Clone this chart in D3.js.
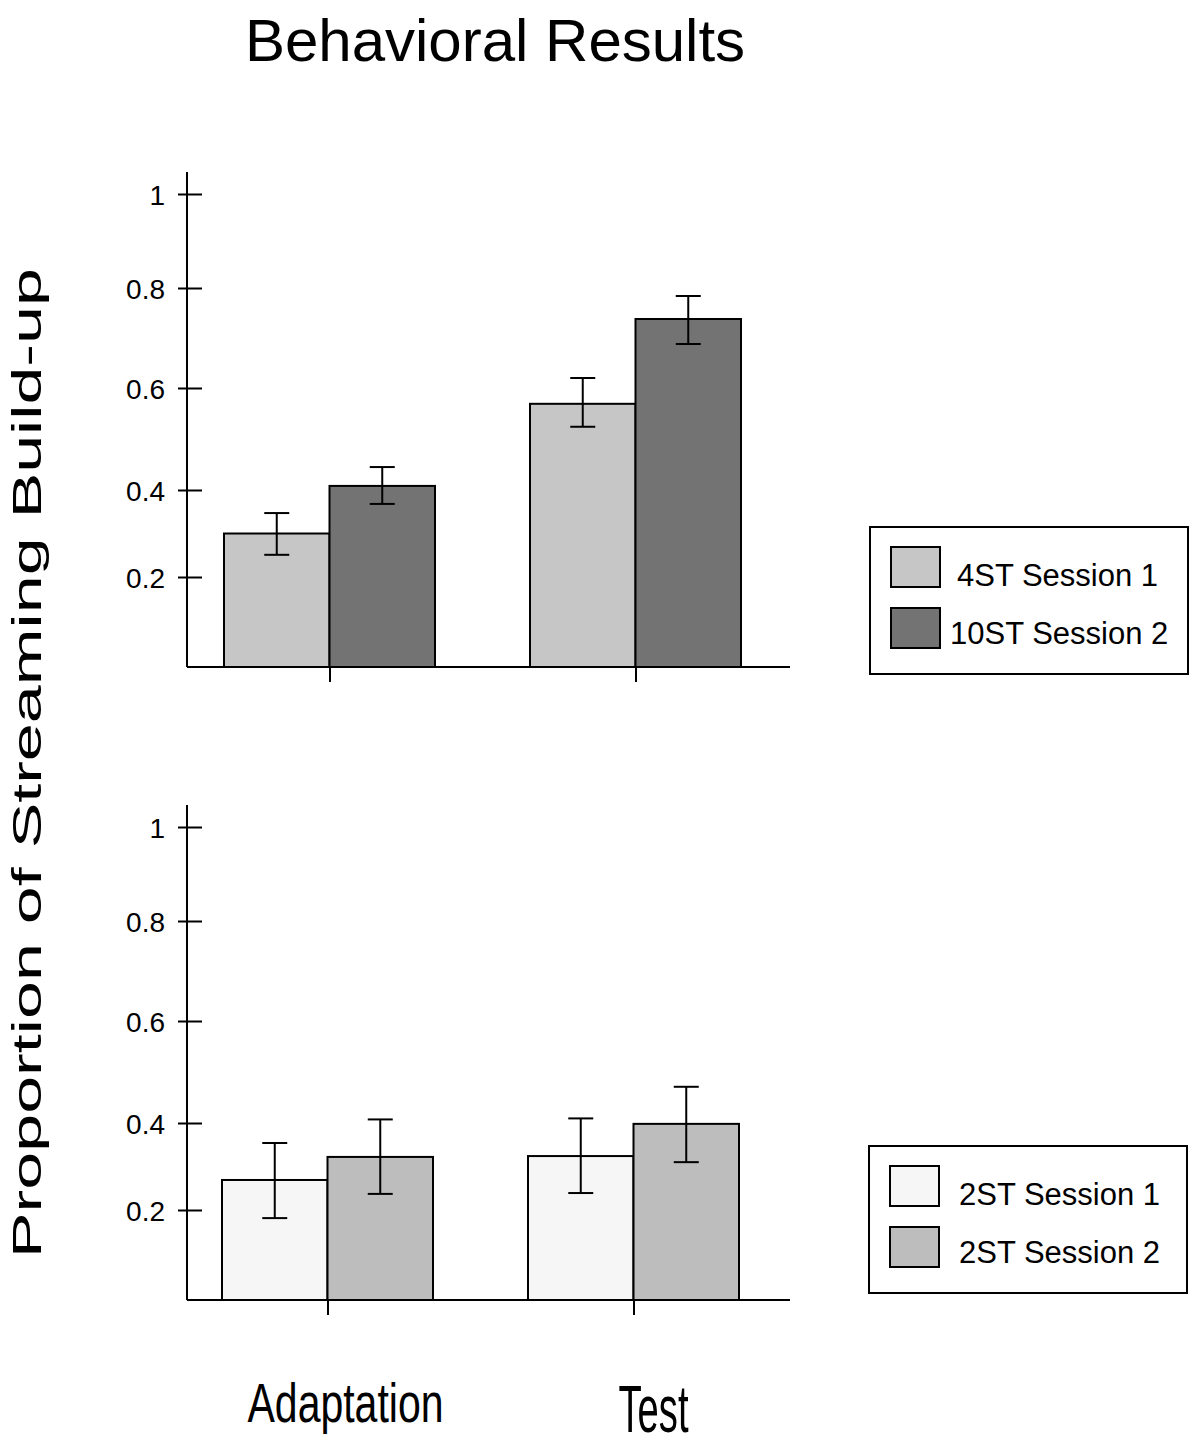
<!DOCTYPE html>
<html>
<head>
<meta charset="utf-8">
<script src="https://cdn.jsdelivr.net/npm/d3@7"></script>
<style>
  html, body { margin: 0; padding: 0; background: #fff; }
  svg { display: block; }
  text { font-family: "Liberation Sans", Arial, Helvetica, sans-serif; fill: #000; }
</style>
</head>
<body>
<svg id="chart" width="1200" height="1446"></svg>
<script>
// ---------------- DATA ----------------
const title = "Behavioral Results";
const yAxisTitle = "Proportion of Streaming Build-up";
const categories = ["Adaptation", "Test"];

const yTickValues = [0.2, 0.4, 0.6, 0.8, 1];
const yTickLabels = ["0.2", "0.4", "0.6", "0.8", "1"];

// Top panel
const topSeriesNames = ["4ST Session 1", "10ST Session 2"];
const topMeans   = [[0.300, 0.569], [0.408, 0.738]];   // [series][category]
const topErrLow  = [[0.251, 0.524], [0.368, 0.688]];
const topErrHigh = [[0.347, 0.620], [0.445, 0.784]];
const topColors  = ["#c6c6c6", "#737373"];

// Bottom panel
const bottomSeriesNames = ["2ST Session 1", "2ST Session 2"];
const bottomMeans   = [[0.269, 0.324], [0.322, 0.398]];
const bottomErrLow  = [[0.182, 0.239], [0.237, 0.310]];
const bottomErrHigh = [[0.354, 0.409], [0.407, 0.471]];
const bottomColors  = ["#f6f6f6", "#bdbdbd"];

// ---------------- DRAW ----------------
const svg = d3.select("#chart");

svg.append("text")
  .attr("x", 495).attr("y", 61)
  .attr("text-anchor", "middle")
  .style("font-size", "60px")
  .text(title);

svg.append("text")
  .attr("transform", "translate(41,763) rotate(-90)")
  .attr("text-anchor", "middle")
  .attr("textLength", 990)
  .attr("lengthAdjust", "spacingAndGlyphs")
  .style("font-size", "40px")
  .text(yAxisTitle);

const axisX = 187;
const xEnd = 790;

function drawPanel(baseY, xShift, seriesNames, means, errLow, errHigh, colors, legend) {
  const g = svg.append("g");
  // polylinear scale reproducing the figure's irregular tick spacing
  const y = d3.scaleLinear()
    .domain([0, 0.2, 0.4, 0.6, 0.8, 1])
    .range([baseY, baseY - 90, baseY - 177, baseY - 279, baseY - 379, baseY - 473]);

  const xCat = d3.scalePoint().domain(categories).range([329.5 + xShift, 635.5 + xShift]);
  const xSeries = d3.scaleBand().domain(d3.range(seriesNames.length)).range([-105.5, 105.5]).padding(0);

  const rows = [];
  seriesNames.forEach((s, si) => categories.forEach((c, ci) => rows.push({
    si, ci, cat: c, v: means[si][ci], lo: errLow[si][ci], hi: errHigh[si][ci]
  })));

  g.selectAll("rect.bar").data(rows).join("rect")
    .attr("class", "bar")
    .attr("x", d => xCat(d.cat) + xSeries(d.si))
    .attr("y", d => y(d.v))
    .attr("width", xSeries.bandwidth())
    .attr("height", d => y(0) - y(d.v))
    .attr("fill", d => colors[d.si])
    .attr("stroke", "#000")
    .attr("stroke-width", 2);

  const cx = d => xCat(d.cat) + xSeries(d.si) + xSeries.bandwidth() / 2;
  const eb = g.selectAll("g.err").data(rows).join("g").attr("class", "err")
    .attr("stroke", "#000").attr("stroke-width", 2);
  eb.append("line").attr("x1", cx).attr("x2", cx).attr("y1", d => y(d.lo)).attr("y2", d => y(d.hi));
  eb.append("line").attr("x1", d => cx(d) - 12.5).attr("x2", d => cx(d) + 12.5).attr("y1", d => y(d.hi)).attr("y2", d => y(d.hi));
  eb.append("line").attr("x1", d => cx(d) - 12.5).attr("x2", d => cx(d) + 12.5).attr("y1", d => y(d.lo)).attr("y2", d => y(d.lo));

  const yLeft = g.append("g").attr("transform", `translate(${axisX},0)`)
    .call(d3.axisLeft(y).tickValues(yTickValues)
      .tickFormat((d, i) => yTickLabels[i]).tickSize(9).tickPadding(13));
  yLeft.attr("font-size", 28).attr("font-family", '"Liberation Sans", Arial, sans-serif');
  yLeft.select(".domain").remove();
  yLeft.selectAll("line").attr("stroke", "#000").attr("stroke-width", 2);
  yLeft.selectAll("text").style("font-size", "28px").attr("fill", "#000").attr("dy", "0.36em");
  const yRight = g.append("g").attr("transform", `translate(${axisX},0)`)
    .call(d3.axisRight(y).tickValues(yTickValues).tickFormat("").tickSize(15));
  yRight.select(".domain").remove();
  yRight.selectAll("line").attr("stroke", "#000").attr("stroke-width", 2);

  g.append("line").attr("x1", axisX).attr("x2", axisX)
    .attr("y1", y(1) - 22).attr("y2", y(0))
    .attr("stroke", "#000").attr("stroke-width", 2);

  const xa = g.append("g").attr("transform", `translate(0,${y(0)})`)
    .call(d3.axisBottom(xCat).tickSize(15).tickFormat(""));
  xa.select(".domain").remove();
  xa.selectAll("line").attr("stroke", "#000").attr("stroke-width", 2);
  g.append("line").attr("x1", axisX).attr("x2", xEnd)
    .attr("y1", y(0)).attr("y2", y(0))
    .attr("stroke", "#000").attr("stroke-width", 2);

  const lg = svg.append("g");
  lg.append("rect").attr("x", legend.x).attr("y", legend.y)
    .attr("width", 318).attr("height", 147)
    .attr("fill", "#fff").attr("stroke", "#000").attr("stroke-width", 2);
  seriesNames.forEach((s, i) => {
    lg.append("rect")
      .attr("x", legend.x + 21).attr("y", legend.y + 20 + i * 61)
      .attr("width", 49).attr("height", 40)
      .attr("fill", colors[i]).attr("stroke", "#000").attr("stroke-width", 2);
    lg.append("text")
      .attr("x", legend.textX[i]).attr("y", legend.y + 59 + i * 58)
      .style("font-size", "31px")
      .text(s);
  });
  return xCat;
}

drawPanel(667, 0, topSeriesNames, topMeans, topErrLow, topErrHigh, topColors,
  { x: 870, y: 527, textX: [957, 950] });
const xCatBottom = drawPanel(1300, -2, bottomSeriesNames, bottomMeans, bottomErrLow, bottomErrHigh, bottomColors,
  { x: 869, y: 1146, textX: [959, 959] });

// category labels under the bottom panel
const catLabelStyle = [
  { size: 56, len: 196, y: 1422, dx: 18 },
  { size: 66, len: 70, y: 1432, dx: 20 }
];
svg.selectAll("text.cat").data(categories).join("text")
  .attr("class", "cat")
  .attr("x", (d, i) => xCatBottom(d) + catLabelStyle[i].dx)
  .attr("y", (d, i) => catLabelStyle[i].y)
  .attr("text-anchor", "middle")
  .attr("textLength", (d, i) => catLabelStyle[i].len)
  .attr("lengthAdjust", "spacingAndGlyphs")
  .style("font-size", (d, i) => catLabelStyle[i].size + "px")
  .text(d => d);
</script>
</body>
</html>
